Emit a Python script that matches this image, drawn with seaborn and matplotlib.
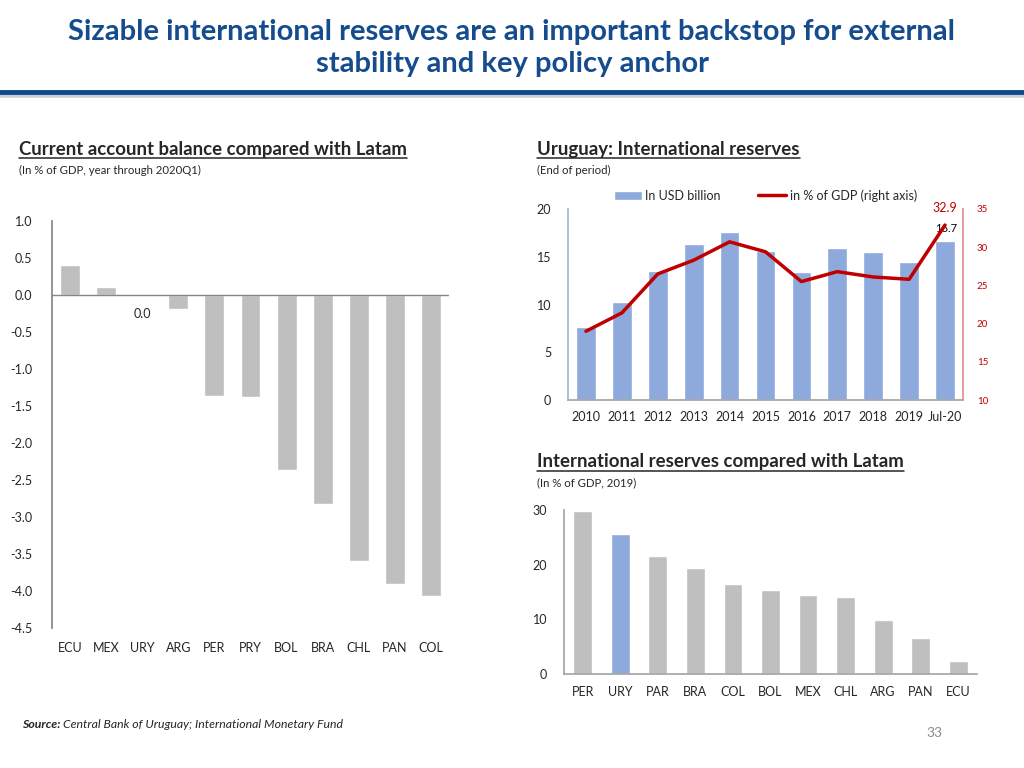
import numpy as np
import pandas as pd
import matplotlib
matplotlib.use("Agg")
import matplotlib.pyplot as plt
import seaborn as sns
from matplotlib.lines import Line2D

# current account balance (% of GDP, year through 2020Q1)
ca_countries = ['ECU', 'MEX', 'URY', 'ARG', 'PER', 'PRY', 'BOL', 'BRA', 'CHL', 'PAN', 'COL']
ca_values = [0.40, 0.11, 0.0, -0.19, -1.36, -1.38, -2.37, -2.83, -3.59, -3.90, -4.07]

# Uruguay international reserves
res_years = ['2010', '2011', '2012', '2013', '2014', '2015', '2016', '2017', '2018', '2019', 'Jul-20']
res_usd = [7.6, 10.3, 13.5, 16.3, 17.55, 15.6, 13.4, 15.9, 15.5, 14.5, 16.7]
res_pct = [19.0, 21.4, 26.5, 28.3, 30.7, 29.4, 25.5, 26.8, 26.1, 25.8, 32.9]

# reserves vs Latam (% of GDP, 2019)
lat_countries = ['PER', 'URY', 'PAR', 'BRA', 'COL', 'BOL', 'MEX', 'CHL', 'ARG', 'PAN', 'ECU']
lat_values = [29.8, 25.6, 21.5, 19.4, 16.4, 15.3, 14.5, 14.1, 9.9, 6.5, 2.3]

sns.set_theme(style="white")
plt.rcParams['font.family'] = ['Lato', 'DejaVu Sans']

BLUE_T = '#154C8E'
BAR_BLUE = '#8EA9DB'
GRAY = '#BFBFBF'
RED = '#C00000'
TXT = '#262626'

fig = plt.figure(figsize=(10.24, 7.68), dpi=100)

# title
fig.text(0.5, 1 - 32/768, 'Sizable international reserves are an important backstop for external',
         ha='center', va='center', fontsize=21, fontweight='bold', color=BLUE_T)
fig.text(0.5, 1 - 64/768, 'stability and key policy anchor',
         ha='center', va='center', fontsize=21, fontweight='bold', color=BLUE_T)
fig.add_artist(Line2D([0, 1], [1 - 95/768] * 2, color='#D0D0D0', lw=4, transform=fig.transFigure))
fig.add_artist(Line2D([0, 1], [1 - 91.5/768] * 2, color='#0D4A8E', lw=3.5, transform=fig.transFigure))

# subtitles with underlined headers
def header(x, y, title, sub):
    t = fig.text(x/1024, 1 - y/768, title, fontsize=13.4, fontweight='bold', color=TXT, va='center')
    fig.text(x/1024, 1 - (y + 21)/768, sub, fontsize=8.2, color=TXT, va='center')
    fig.canvas.draw()
    bb = t.get_window_extent()
    yy = bb.y0 / 768 - 0.001
    fig.add_artist(Line2D([bb.x0/1024, bb.x1/1024], [yy, yy], color=TXT, lw=1.1, transform=fig.transFigure))

header(19, 149, 'Current account balance compared with Latam', '(In % of GDP, year through 2020Q1)')
header(537, 149, 'Uruguay: International reserves', '(End of period)')
header(537, 462, 'International reserves compared with Latam', '(In % of GDP, 2019)')

# ---- left chart
ax1 = fig.add_axes([52/1024, 1 - 628/768, 397/1024, 407/768])
sns.barplot(x=ca_countries, y=ca_values, color=GRAY, width=0.55, saturation=1, ax=ax1)
ax1.set_ylim(-4.5, 1.0)
ax1.set_xlim(-0.5, 10.5)
ax1.set_yticks(np.arange(-4.5, 1.01, 0.5))
ax1.set_yticklabels([f'{v:.1f}' for v in np.arange(-4.5, 1.01, 0.5)])
ax1.axhline(0, color='#868686', lw=1)
for s in ['top', 'right', 'bottom']:
    ax1.spines[s].set_visible(False)
ax1.spines['left'].set_color('#868686')
ax1.tick_params(axis='both', length=0, labelsize=9, colors=TXT)
ax1.tick_params(axis='y', pad=14)
ax1.tick_params(axis='x', pad=10)
ax1.annotate(f'{ca_values[2]:.1f}', (2, ca_values[2]), xytext=(0, -9), textcoords='offset points',
             ha='center', va='top', fontsize=9, color=TXT)

# ---- top right chart
ax2 = fig.add_axes([568/1024, 1 - 400/768, 395/1024, 191/768])
sns.barplot(x=res_years, y=res_usd, color=BAR_BLUE, width=0.55, saturation=1, ax=ax2, label='In USD billion')
ax2.set_ylim(0, 20)
ax2.set_yticks([0, 5, 10, 15, 20])
ax3 = ax2.twinx()
sns.pointplot(x=res_years, y=res_pct, color=RED, markers='', linewidth=2.5, errorbar=None,
              ax=ax3, label='in % of GDP (right axis)')
ax3.set_ylim(10, 35)
ax3.set_yticks([10, 15, 20, 25, 30, 35])
ax2.set_xlim(-0.5, 10.5)
ax3.set_xlim(-0.5, 10.5)
for a in (ax2, ax3):
    a.spines['top'].set_visible(False)
    a.set_xlabel('')
    a.set_ylabel('')
ax2.spines['right'].set_visible(False)
ax2.spines['left'].set_color('#A9B8CF')
ax2.spines['bottom'].set_color('#A6A6A6')
ax3.spines['left'].set_visible(False)
ax3.spines['bottom'].set_visible(False)
ax3.spines['right'].set_color('#E09090')
ax2.tick_params(axis='both', length=0, labelsize=9, colors=TXT)
ax2.tick_params(axis='y', pad=12)
ax2.tick_params(axis='x', pad=8)
ax3.tick_params(axis='y', length=0, labelsize=7, colors=RED, pad=10)
ax3.annotate(f'{res_pct[-1]:.1f}', (10, 35), xytext=(0, 1), textcoords='offset points',
             ha='center', va='center', fontsize=9, color=RED, annotation_clip=False)
ax2.annotate(f'{res_usd[-1]:.1f}', (10, res_usd[-1]), xytext=(1, 9), textcoords='offset points',
             ha='center', va='center', fontsize=8, color='black')
h1, l1 = ax2.get_legend_handles_labels()
h3, l3 = ax3.get_legend_handles_labels()
if ax2.get_legend() is not None:
    ax2.get_legend().remove()
leg = ax3.legend(h1 + h3, l1 + l3, loc='lower center', bbox_to_anchor=(0.5, 0.98), ncol=2, frameon=False,
                 fontsize=9, handlelength=2.2, columnspacing=3, handletextpad=0.3)
for t in leg.get_texts():
    t.set_color(TXT)

# ---- bottom right chart
ax4 = fig.add_axes([564/1024, 1 - 674/768, 413/1024, 164/768])
pal = [BAR_BLUE if c == 'URY' else GRAY for c in lat_countries]
sns.barplot(x=lat_countries, y=lat_values, hue=lat_countries, palette=pal, legend=False,
            width=0.5, saturation=1, ax=ax4)
ax4.set_ylim(0, 30)
ax4.set_xlim(-0.5, 10.5)
ax4.set_yticks([0, 10, 20, 30])
for s in ['top', 'right']:
    ax4.spines[s].set_visible(False)
ax4.spines['left'].set_color('#A6A6A6')
ax4.spines['bottom'].set_color('#A6A6A6')
ax4.tick_params(axis='both', length=0, labelsize=9, colors=TXT)
ax4.tick_params(axis='y', pad=12)
ax4.tick_params(axis='x', pad=9)

# footer
src = fig.text(22/1024, 1 - 724/768, 'Source:', fontsize=8.8, fontweight='bold', style='italic',
               color=TXT, va='center')
fig.canvas.draw()
sx = src.get_window_extent().x1 / 1024 + 3/1024
fig.text(sx, 1 - 724/768, 'Central Bank of Uruguay; International Monetary Fund', fontsize=8.8,
         style='italic', color=TXT, va='center')
fig.text(934/1024, 1 - 733/768, '33', fontsize=10, color='#8C8C8C', ha='center', va='center')

fig.savefig('out.png', dpi=100)
